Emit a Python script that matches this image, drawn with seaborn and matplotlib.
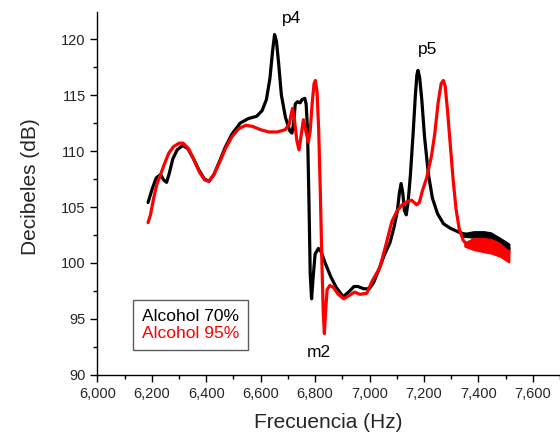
import numpy as np
import pandas as pd
import matplotlib
matplotlib.use("Agg")
import matplotlib.pyplot as plt
from matplotlib.ticker import MultipleLocator, StrMethodFormatter
import seaborn as sns

# Alcohol 70 %  (frequency in Hz, level in dB)
freq_70 = [6186, 6201, 6216, 6232, 6244, 6254, 6264, 6277, 6293, 6313, 6333, 6353,
           6373, 6393, 6410, 6428, 6449, 6469, 6494, 6525, 6555, 6585, 6605, 6621,
           6634, 6644, 6651, 6658, 6666, 6676, 6691, 6707, 6715, 6721, 6727, 6735,
           6745, 6752, 6762, 6767, 6772, 6777, 6782, 6787, 6792, 6800, 6812, 6822,
           6837, 6857, 6878, 6903, 6923, 6943, 6958, 6978, 6999, 7014, 7034, 7054,
           7075, 7090, 7102, 7110, 7116, 7122, 7128, 7135, 7142, 7150, 7160, 7168,
           7174, 7178, 7184, 7192, 7202, 7216, 7231, 7250, 7272, 7297, 7333, 7364,
           7394, 7424, 7455, 7485, 7512]
db_70 = [105.4, 106.6, 107.6, 107.9, 107.4, 107.2, 108.0, 109.3, 110.1, 110.5, 110.2, 109.3,
         108.3, 107.5, 107.3, 107.9, 109.1, 110.3, 111.5, 112.5, 112.9, 113.1, 113.6, 114.6,
         116.5, 119.0, 120.4, 119.8, 117.8, 115.0, 113.0, 111.8, 111.6, 112.5, 114.2, 114.4,
         114.3, 114.6, 114.7, 114.2, 112.0, 106.0, 99.0, 96.8, 98.5, 100.8, 101.3, 101.0,
         100.0, 98.8, 97.8, 97.0, 97.4, 97.9, 97.9, 97.7, 97.7, 98.2, 99.4, 100.7,
         101.8, 103.2, 104.6, 106.3, 107.1, 106.3, 104.7, 104.3, 105.5, 107.8, 111.5, 114.8,
         116.8, 117.2, 116.6, 114.6, 111.3, 108.0, 105.8, 104.4, 103.5, 103.1, 102.7, 102.5,
         102.5, 102.5, 102.3, 101.9, 101.3]

# Alcohol 95 %
freq_95 = [6186, 6195, 6205, 6218, 6232, 6247, 6262, 6280, 6300, 6315, 6335, 6355,
           6375, 6395, 6410, 6428, 6449, 6470, 6495, 6520, 6545, 6570, 6600, 6630,
           6660, 6690, 6705, 6712, 6717, 6724, 6733, 6741, 6748, 6757, 6764, 6775,
           6782, 6789, 6796, 6801, 6807, 6813, 6819, 6825, 6830, 6834, 6838, 6844,
           6854, 6868, 6885, 6905, 6925, 6945, 6965, 6990, 7010, 7038, 7060, 7082,
           7100, 7120, 7140, 7155, 7173, 7183, 7195, 7210, 7228, 7240, 7252, 7263,
           7271, 7278, 7287, 7297, 7307, 7318, 7330, 7345, 7360, 7380, 7400, 7430,
           7460, 7490, 7512]
db_95 = [103.6, 104.3, 105.6, 107.0, 107.9, 108.9, 109.8, 110.4, 110.7, 110.7, 110.2, 109.2,
         108.1, 107.4, 107.3, 107.9, 109.0, 110.2, 111.3, 112.0, 112.3, 112.2, 111.9, 111.7,
         111.7, 111.9, 112.4, 113.3, 113.8, 112.8, 110.9, 110.1, 111.3, 112.8, 112.0, 110.8,
         111.8, 114.2, 116.0, 116.3, 115.3, 112.0, 106.5, 100.0, 95.5, 93.7, 95.5, 97.6,
         98.0, 97.8, 97.2, 96.8, 97.1, 97.4, 97.2, 97.3, 98.4, 99.6, 101.6, 103.7,
         104.6, 105.2, 105.5, 105.6, 105.2, 105.4, 106.5, 107.6, 109.6, 111.6, 114.3, 116.0,
         116.3, 115.8, 113.5, 110.5, 107.5, 104.8, 103.0, 102.0, 101.6, 101.5, 101.7, 101.6,
         101.3, 100.9, 100.6]

# Spread of the fluctuating high-frequency tail (upper / lower envelope)
tail_f_70 = [7340, 7383, 7420, 7445, 7480, 7512]
tail_hi_70 = [102.6, 102.8, 102.8, 102.7, 102.2, 101.7]
tail_lo_70 = [102.4, 102.3, 102.2, 102.1, 101.5, 100.9]
tail_f_95 = [7350, 7383, 7420, 7445, 7480, 7512]
tail_hi_95 = [101.8, 102.2, 102.2, 102.1, 101.8, 101.4]
tail_lo_95 = [101.5, 101.2, 101.0, 100.9, 100.6, 100.1]

series = ["Alcohol 70%", "Alcohol 95%"]
colors = {"Alcohol 70%": "#000000", "Alcohol 95%": "#ff0000"}

peak_labels = ["p4", "p5", "m2"]
peak_pos = [(6715, 121.8), (7215, 119.1), (6815, 92.0)]

df = pd.concat([
    pd.DataFrame({"Frecuencia": freq_70, "dB": db_70, "Muestra": series[0]}),
    pd.DataFrame({"Frecuencia": freq_95, "dB": db_95, "Muestra": series[1]}),
], ignore_index=True)

sns.set_theme(style="ticks")
plt.rcParams["font.family"] = ["Liberation Sans", "DejaVu Sans"]

fig = plt.figure(figsize=(5.6, 4.34), dpi=100)
ax = fig.add_axes([0.174, 0.136, 0.826, 0.836])

sns.lineplot(data=df, x="Frecuencia", y="dB", hue="Muestra", palette=colors,
             sort=False, estimator=None, linewidth=2.3, legend=False, ax=ax)
ax.fill_between(tail_f_70, tail_lo_70, tail_hi_70, color=colors[series[0]], lw=1.5)
ax.fill_between(tail_f_95, tail_lo_95, tail_hi_95, color=colors[series[1]], lw=1.5)

ax.set_xlim(6000, 7700)
ax.set_ylim(90, 122.4)
ax.xaxis.set_major_locator(MultipleLocator(200))
ax.xaxis.set_minor_locator(MultipleLocator(100))
ax.yaxis.set_major_locator(MultipleLocator(5))
ax.yaxis.set_minor_locator(MultipleLocator(2.5))
ax.xaxis.set_major_formatter(StrMethodFormatter("{x:,.0f}"))
ax.tick_params(which="major", direction="out", length=5, width=1, labelsize=10.5, color="black")
ax.tick_params(which="minor", direction="out", length=3, width=1, color="black")
for s in ["left", "bottom"]:
    ax.spines[s].set_color("black")
    ax.spines[s].set_linewidth(1)
sns.despine(ax=ax)

ax.set_xlabel("Frecuencia (Hz)", fontsize=15, labelpad=9)
ax.set_ylabel("Decibeles (dB)", fontsize=15, labelpad=15)
ax.yaxis.label.set_y(0.52)

for lab, (fx, fy) in zip(peak_labels, peak_pos):
    ax.text(fx, fy, lab, fontsize=12.5, ha="center", va="center", color="black")

handles = [plt.Line2D([], [], linestyle="none") for _ in series]
leg = ax.legend(handles, series, loc="upper left", bbox_to_anchor=(0.077, 0.207),
                borderaxespad=0, handlelength=0, handletextpad=0, fontsize=12.5,
                frameon=True, fancybox=False, edgecolor="#333333",
                labelcolor=[colors[s] for s in series], borderpad=0.5, labelspacing=0.15)
leg.get_frame().set_linewidth(1)

fig.savefig("out.png", dpi=100)
